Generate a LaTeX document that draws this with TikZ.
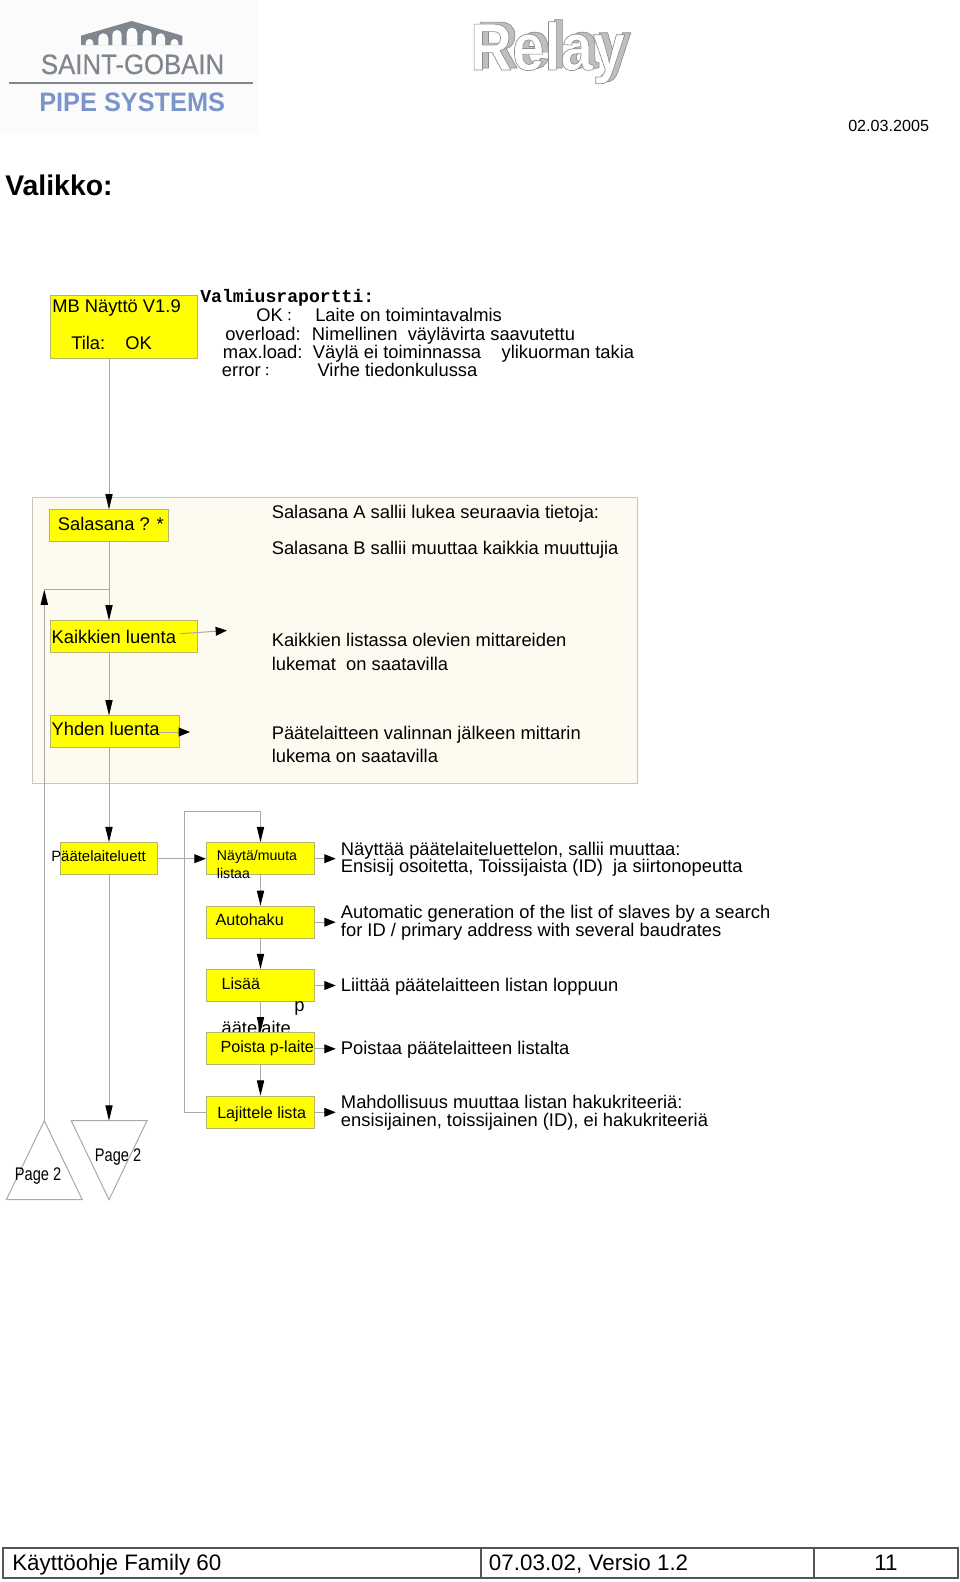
\documentclass[tikz,border=0pt]{standalone}
\usepackage{fontspec}
\setmainfont{Liberation Sans}
\newfontfamily\narrowfont[FakeStretch=0.8]{Liberation Sans}
\newfontfamily\relayfont[FakeStretch=0.87]{Liberation Sans Bold}
\newfontfamily\saintfont[FakeStretch=0.92,FakeBold=0.5]{Liberation Sans}
\newfontfamily\pipefont[FakeStretch=0.95]{Liberation Sans Bold}
\newfontfamily\typefont{Liberation Mono}
\newfontfamily\cjkfont{Noto Sans CJK JP}
\usetikzlibrary{arrows.meta}
\definecolor{boxyellow}{RGB}{255,255,0}
\definecolor{linegray}{HTML}{A9A9A9}
\definecolor{boxedge}{HTML}{B5B56E}
\definecolor{panelfill}{HTML}{FDFAF0}
\definecolor{paneledge}{HTML}{C6C6BC}
\definecolor{logogray}{HTML}{80868E}
\definecolor{logoblue}{HTML}{7C95C9}
\definecolor{logoback}{HTML}{FBFBFC}
\definecolor{footline}{HTML}{555555}
\newcommand{\relayword}[1]{\special{pdf:code 2 Tr 0.5 w 0.55 G}#1\special{pdf:code 0 Tr 0.4 w 0 G}}
\newcommand{\widecolon}{{\cjkfont\fontsize{10}{10}\selectfont ：}}
\tikzset{
  ybox/.style 2 args={draw=boxedge,line width=0.75pt,fill=boxyellow,inner sep=0pt,
    minimum width=#1*0.75pt,minimum height=#2*0.75pt},
  txt/.style={anchor=base west,inner sep=0pt,font=\fontsize{13.76}{16}\selectfont},
  smalltxt/.style={anchor=base west,inner sep=0pt,font=\fontsize{12.1}{14}\selectfont},
  tinytxt/.style={anchor=base west,inner sep=0pt,font=\fontsize{10.6}{12}\selectfont},
  foottxt/.style={inner sep=0pt,font=\fontsize{16.8}{20}\selectfont},
  glue/.style={draw=linegray,line width=0.75pt},
  varrow/.style={glue,-{Triangle[length=11.5pt,width=5.4pt,black]}},
  harrow/.style={glue,-{Triangle[length=8.5pt,width=6.6pt,black]}},
  footrule/.style={draw=footline,line width=1.5pt},
}
\begin{document}
\begin{tikzpicture}[x=0.75pt,y=-0.75pt]
\useasboundingbox (0,0) rectangle (960,1582);
\fill[white] (0,0) rectangle (960,1582);
% logos
\fill[logoback] (0,0) rectangle (258,133);
\fill[logogray] (81,45) -- (81,35.7) -- (131.7,21) -- (182.3,35.7) -- (182.3,45) -- cycle;
\fill[logoback] (126.7,45) -- (126.7,33) arc (180:360:5.3) -- (137.3,45) -- cycle
  (112.3,45) -- (112.3,34.7) arc (180:360:4.7) -- (121.7,45) -- cycle
  (142.7,45) -- (142.7,34.5) arc (180:360:4.5) -- (151.7,45) -- cycle
  (98.3,45) -- (98.3,38.3) arc (180:360:5) -- (108.3,45) -- cycle
  (156,45) -- (156,37.8) arc (180:360:4.5) -- (165,45) -- cycle
  (85.7,45) -- (85.7,42.8) arc (180:360:3.8) -- (93.3,45) -- cycle
  (170.7,45) -- (170.7,42.8) arc (180:360:3.8) -- (178.3,45) -- cycle;
\node[anchor=base west,inner sep=0pt,text=logogray,font=\fontsize{21}{24}\saintfont] (saint) at (40.7,74) {SAINT-GOBAIN};
\fill[logogray] (9.3,81.8) rectangle (253.3,84.2);
\node[anchor=base west,inner sep=0pt,text=logoblue,font=\fontsize{20}{24}\pipefont] (pipe) at (39,111) {PIPE SYSTEMS};
\node[anchor=base west,inner sep=0pt,text=lightgray,font=\fontsize{50}{50}\relayfont] (relayback) at (476,68) {\relayword{Relay}};
\node[anchor=base west,inner sep=0pt,text=white,font=\fontsize{50}{50}\relayfont] (relay) at (470,70) {\relayword{Relay}};
\node[anchor=base west,inner sep=0pt,font=\fontsize{12.1}{14}\selectfont] (date) at (848,131.5) {02.03.2005};
\node[anchor=base west,inner sep=0pt,font=\fontsize{21.3}{28}\bfseries\selectfont] (title) at (5,195) {Valikko:};
% grey panel
\fill[panelfill,draw=paneledge,line width=0.75pt] (32.3,497.3) rectangle (637.4,783);
% boxes
\node[ybox={147.4}{63.4}] (mb) at (124,327) {};
\node[ybox={119.4}{31.7}] (sala) at (109,525.8) {};
\node[ybox={147.4}{31.7}] (kaik) at (124,636.8) {};
\node[ybox={129.4}{31.7}] (yhden) at (115,731.8) {};
\node[ybox={97.4}{32}] (paate) at (109,858.7) {};
\node[ybox={108.4}{32}] (nayta) at (260.5,858.7) {};
\node[ybox={108.4}{31.7}] (auto) at (260.5,922.2) {};
\node[ybox={108.4}{31.7}] (lisaa) at (260.5,985.5) {};
\node[txt] (lisaap) at (294,1011.7) {p};
\node[txt] (lisaalaite) at (221.3,1034) {äätelaite};
\node[ybox={108.4}{31.7}] (poista) at (260.5,1048.8) {};
\node[ybox={108.4}{32}] (laji) at (260.5,1112.3) {};
% triangles
\coordinate (pageup) at (44.3,1120.7);
\coordinate (pagedown) at (109,1120.7);
\draw[glue] (pageup) -- (6.3,1199.7) -- (82.3,1199.7) -- cycle;
\draw[glue] (71.3,1120.7) -- (147,1120.7) -- (109,1199.7) -- cycle;
% connectors
\draw[varrow] (mb.south -| sala) -- (sala.north);
\draw[varrow] (sala.south) -- (kaik.north -| sala);
\draw[varrow] (kaik.south -| sala) -- (yhden.north -| sala);
\draw[varrow] (yhden.south -| sala) -- (paate.north);
\draw[varrow] (paate.south) -- (pagedown);
\coordinate (loopup) at (44.3,589.5);
\draw[varrow] (pageup) -- (loopup);
\draw[glue] (loopup) -- (loopup -| sala);
\coordinate (kaikfrom) at (179.7,633.7);
\coordinate (kaikto) at (227,630.5);
\draw[harrow] (kaikfrom) -- (kaikto);
\coordinate (yhdenfrom) at (159,732);
\coordinate (yhdento) at (190,732);
\draw[harrow] (yhdenfrom) -- (yhdento);
\draw[harrow] (paate.east) -- (nayta.west);
\draw[varrow] (nayta.south) -- (auto.north);
\draw[varrow] (auto.south) -- (lisaa.north);
\draw[varrow] (lisaa.south) -- (poista.north);
\draw[varrow] (poista.south) -- (laji.north);
\coordinate (backleft) at (184.3,811);
\draw[varrow] (laji.west) -| (backleft) -| (nayta.north);
\coordinate (naytato) at (335.7,858.7);
\coordinate (autoto) at (335.7,922.2);
\coordinate (lisaato) at (335.7,985.5);
\coordinate (poistato) at (335.7,1048.8);
\coordinate (lajito) at (335.7,1112.3);
\draw[harrow] (nayta.east) -- (naytato);
\draw[harrow] (auto.east) -- (autoto);
\draw[harrow] (lisaa.east) -- (lisaato);
\draw[harrow] (poista.east) -- (poistato);
\draw[harrow] (laji.east) -- (lajito);
% box labels
\node[txt] (mbname) at (52,312.3) {MB Näyttö V1.9};
\node[txt] (mbtila) at (71,349.3) {Tila:};
\node[txt] (mbok) at (125,349.3) {OK};
\node[txt] (salaname) at (57.7,530.7) {Salasana ? *};
\node[txt] (kaikname) at (51.3,643.3) {Kaikkien luenta};
\node[txt] (yhdenname) at (51.3,735) {Yhden luenta};
\node[anchor=base west,inner sep=0pt,font=\fontsize{11.2}{14}\selectfont] (paatename) at (51,861.7) {Päätelaiteluett};
\node[tinytxt] (naytaname) at (216.7,860) {Näytä/muuta};
\node[tinytxt] (naytaname2) at (216.7,878.3) {listaa};
\node[smalltxt] (autoname) at (215.3,925.7) {Autohaku};
\node[smalltxt] (lisaaname) at (221.3,989) {Lisää};
\node[smalltxt] (poistaname) at (220.3,1052.3) {Poista p-laite};
\node[smalltxt] (lajiname) at (217,1118.3) {Lajittele lista};
\node[anchor=base west,inner sep=0pt,font=\fontsize{13.7}{16}\narrowfont] (pageupname) at (14.7,1180) {Page 2};
\node[anchor=base west,inner sep=0pt,font=\fontsize{13.7}{16}\narrowfont] (pagedownname) at (94.7,1161) {Page 2};
% status report
\node[anchor=base west,inner sep=0pt,font=\fontsize{13.6}{16}\typefont\bfseries] (valmius) at (200,302) {Valmiusraportti:};
\node[txt] (okkey) at (256,321.7) {OK\widecolon};
\node[txt] (okval) at (315,321.7) {Laite on toimintavalmis};
\node[txt] (overkey) at (225,340) {overload:};
\node[txt] (overval) at (311.7,340) {Nimellinen\ \ väylävirta saavutettu};
\node[txt] (maxkey) at (222.7,358.3) {max.load:};
\node[txt] (maxval) at (312.7,358.3) {Väylä ei toiminnassa\ \ \ \ ylikuorman takia};
\node[txt] (errkey) at (221.7,376) {error\widecolon};
\node[txt] (errval) at (317.3,376) {Virhe tiedonkulussa};
% panel texts
\node[txt] (passa) at (271.5,518) {Salasana A sallii lukea seuraavia tietoja:};
\node[txt] (passb) at (271.5,554.3) {Salasana B sallii muuttaa kaikkia muuttujia};
\node[txt] (kaika) at (271.5,646.7) {Kaikkien listassa olevien mittareiden};
\node[txt] (kaikb) at (271.5,670.7) {lukemat\ \ on saatavilla};
\node[txt] (yhdena) at (271.5,739) {Päätelaitteen valinnan jälkeen mittarin};
\node[txt] (yhdenb) at (271.5,762.7) {lukema on saatavilla};
% list texts
\node[txt] (naytaa) at (340.7,855) {Näyttää päätelaiteluettelon, sallii muuttaa:};
\node[txt] (naytab) at (340.7,872.7) {Ensisij osoitetta, Toissijaista (ID)\ \ ja siirtonopeutta};
\node[txt] (autoa) at (340.7,918.3) {Automatic generation of the list of slaves by a search};
\node[txt] (autob) at (340.7,936) {for ID / primary address with several baudrates};
\node[txt] (lisaatxt) at (340.7,991) {Liittää päätelaitteen listan loppuun};
\node[txt] (poistatxt) at (340.7,1054.3) {Poistaa päätelaitteen listalta};
\node[txt] (lajia) at (340.7,1108.3) {Mahdollisuus muuttaa listan hakukriteeriä:};
\node[txt] (lajib) at (340.7,1126) {ensisijainen, toissijainen (ID), ei hakukriteeriä};
% footer
\draw[footrule] (3,1548.3) rectangle (957.7,1577.5);
\draw[footrule] (480.7,1548.3) -- (480.7,1577.5);
\draw[footrule] (813.7,1548.3) -- (813.7,1577.5);
\node[foottxt,anchor=base west] (footname) at (12,1570.7) {Käyttöohje Family 60};
\node[foottxt,anchor=base west] (footver) at (488.7,1570.7) {07.03.02, Versio 1.2};
\node[foottxt,anchor=base] (footpage) at (886,1570.7) {11};
\end{tikzpicture}
\end{document}
